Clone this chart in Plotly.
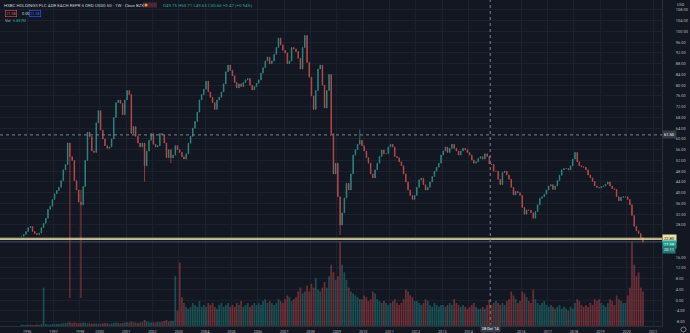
import pandas as pd
import plotly.graph_objects as go

TITLE = "HSBC HOLDINGS PLC ADR EACH REPR 5 ORD USD0.50 · 1W · Cboe BZX"
OHLC_TEXT = "O49.75 H50.71 L49.63 C50.66 +0.47 (+0.94%)"
BID, SPREAD, ASK = "21.58", "0.00", "21.58"
VOL_TEXT = "6.837M"

# Monthly closes, Oct 1995 - Jun 1998 (the feed has no bars until Oct 1999)
close_early = [
    23.8, 24.5, 25.6,
    27.0, 27.4, 25.6, 24.8, 24.4, 25.0, 27.0, 28.6, 30.5, 33.8, 35.0, 37.5,
    39.6, 40.8, 42.0, 44.5, 48.5, 50.5, 58.5, 53.4, 52.0, 44.5, 41.0, 36.5,
    35.5, 42.3, 52.0, 62.5, 60.9, 55.5,
]
# Monthly closes, Oct 1999 - Aug 2020
close_late = [
    55.0, 66.0, 70.5,
    63.3, 60.0, 57.5, 56.5, 57.0, 60.0, 68.0, 73.5, 74.5, 73.3, 69.0, 74.5,
    78.0, 76.5, 62.0, 64.6, 61.0, 58.5, 57.0, 58.5, 50.0, 55.5, 59.5, 62.0,
    58.0, 57.0, 57.5, 62.0, 61.5, 58.5, 53.0, 56.0, 53.0, 54.0, 57.5, 56.0,
    55.0, 53.4, 52.5, 54.5, 58.4, 61.0, 64.0, 66.5, 70.0, 74.5, 76.5, 78.5,
    81.5, 77.5, 75.5, 73.5, 71.0, 74.5, 75.5, 77.5, 80.5, 85.0, 87.5, 85.5,
    83.5, 81.0, 79.0, 80.5, 79.5, 81.0, 82.0, 82.5, 80.0, 78.2, 79.5, 80.7,
    82.0, 84.5, 86.5, 89.0, 90.5, 88.0, 89.0, 91.5, 94.0, 97.5, 95.0, 93.0,
    92.0, 88.0, 89.0, 94.0, 93.5, 92.5, 90.0, 86.0, 94.0, 98.5, 88.5, 83.0,
    76.0, 71.0, 78.0, 86.0, 87.5, 80.0, 71.5, 78.0, 84.0, 62.0, 47.0, 51.0,
    38.5, 28.0, 32.5, 38.0, 43.5, 41.0, 47.0, 54.0, 56.0, 58.0, 59.5, 57.5,
    55.5, 53.0, 51.0, 47.0, 45.5, 48.5, 51.0, 53.5, 55.9, 54.5, 54.5, 57.0,
    58.0, 57.0, 53.5, 53.0, 51.5, 50.0, 47.0, 44.0, 41.0, 39.0, 37.5, 39.0,
    42.0, 44.8, 45.4, 43.0, 41.0, 42.0, 44.0, 46.0, 48.0, 49.5, 51.0, 54.0,
    55.5, 57.0, 55.0, 56.5, 58.0, 56.5, 55.5, 54.0, 55.5, 56.5, 56.0, 55.0,
    54.0, 52.2, 51.0, 51.5, 52.8, 53.4, 52.5, 54.5, 53.5, 50.7, 50.5, 48.0,
    48.0, 45.0, 43.0, 47.5, 48.0, 46.6, 45.0, 42.0, 39.2, 40.5, 40.0, 39.0,
    34.5, 32.0, 33.6, 33.5, 32.5, 30.5, 33.0, 35.5, 37.9, 38.5, 39.5, 41.0,
    42.5, 43.0, 41.2, 42.5, 44.5, 46.5, 48.5, 49.0, 49.0, 48.5, 50.0, 52.5,
    55.0, 51.5, 50.0, 49.7, 49.5, 48.5, 46.6, 45.5, 44.2, 42.5, 42.0, 41.8,
    42.3, 42.5, 43.2, 44.0, 42.5, 41.5, 41.2, 38.5, 37.0, 38.3, 38.5, 38.5,
    37.5, 35.5, 31.5, 27.5, 25.8, 24.8, 23.2, 21.58,
]

# Average weekly volume per month, millions of shares
vol_early = [
    0.4, 0.3, 0.3,
    0.3, 0.4, 0.3, 0.3, 0.4, 0.3, 0.5, 10.0, 0.5, 0.4, 0.4, 0.5,
    0.5, 0.6, 0.5, 0.6, 0.7, 0.8, 0.9, 1.0, 0.8, 0.9, 0.8, 0.7,
    0.8, 0.9, 0.8, 0.7, 0.7, 0.6,
]
vol_late = [
    0.6, 0.7, 0.6,
    0.6, 0.7, 0.8, 0.7, 0.6, 0.7, 0.8, 0.9, 0.8, 0.7, 0.8, 0.9,
    1.0, 0.9, 1.2, 1.0, 0.9, 0.8, 0.9, 1.0, 1.6, 1.2, 1.0, 0.9,
    1.0, 0.9, 1.1, 1.0, 1.2, 1.3, 1.6, 1.2, 1.4, 1.4, 13.0, 4.0,
    16.5, 7.5, 6.0, 5.0, 4.5, 5.0, 6.0, 5.5, 5.0, 6.5, 5.0, 5.5,
    5.0, 6.0, 5.5, 6.0, 5.0, 4.5, 5.5, 6.0, 5.0, 5.5, 6.0, 5.0,
    5.5, 5.0, 6.0, 5.5, 6.5, 5.0, 5.5, 6.0, 5.0, 5.5, 6.0, 5.5,
    6.0, 5.5, 6.5, 7.0, 6.0, 6.5, 6.0, 5.5, 6.0, 7.0, 6.5, 6.0,
    7.0, 8.0, 7.5, 6.5, 7.0, 7.5, 9.0, 10.0, 8.5, 9.0, 10.5, 9.0,
    11.0, 10.0, 12.5, 9.5, 9.0, 10.0, 11.5, 10.0, 13.0, 16.0, 14.0, 12.0,
    13.0, 22.0, 16.0, 14.0, 12.0, 10.0, 9.0, 8.5, 8.0, 7.5, 7.0, 7.0,
    8.0, 7.5, 6.5, 7.0, 9.0, 8.5, 7.0, 6.5, 6.0, 6.5, 6.0, 5.5,
    6.0, 6.5, 7.0, 6.0, 5.5, 6.0, 7.0, 9.5, 9.0, 8.0, 7.5, 6.5,
    6.5, 6.0, 5.5, 6.0, 7.0, 6.5, 5.5, 5.0, 6.0, 5.5, 5.0, 5.5,
    5.5, 5.0, 5.5, 6.0, 5.5, 7.0, 6.0, 5.5, 5.0, 5.5, 5.0, 4.5,
    5.0, 5.5, 6.0, 5.0, 4.5, 4.5, 5.0, 4.5, 5.5, 6.8, 5.5, 6.0,
    6.5, 6.0, 5.5, 6.0, 5.5, 6.5, 7.0, 9.0, 8.0, 7.0, 6.0, 6.5,
    9.0, 8.5, 7.5, 6.5, 6.0, 9.5, 7.0, 6.0, 5.5, 6.0, 6.5, 5.5,
    5.0, 5.5, 5.0, 4.5, 5.0, 5.5, 4.5, 5.0, 4.5, 4.0, 5.0, 4.5,
    6.0, 7.0, 6.5, 5.5, 5.0, 5.5, 5.0, 6.0, 5.5, 7.0, 6.5, 7.0,
    6.0, 5.5, 5.0, 6.0, 7.0, 6.5, 5.5, 8.0, 7.0, 6.5, 6.0, 6.0,
    8.0, 10.0, 22.0, 16.0, 13.0, 14.0, 10.0, 9.0,
]

# Bars whose range reaches past open/close: month -> (high, low)
wick_extremes = {
    "1997-08": (58.5, 0.8),
    "1998-01": (41.0, 0.8),
    "2001-09": (58.0, 44.1),
    "2002-09": (56.0, 51.0),
    "2009-02": (38.5, 24.3),
    "2009-11": (63.5, 58.0),
}

year_ticks = ["1996", "1997", "1998", "2000", "2001", "2002", "2003", "2004",
              "2005", "2006", "2007", "2008", "2009", "2010", "2011", "2012",
              "2013", "2014", "2016", "2017", "2018", "2019", "2020", "2021"]
year_labels = ["1996", "1997", "1998", "2000", "2001", "2002", "2003", "2004",
               "2005", "2006", "2007", "2008", "2009", "2010", "2011", "2012",
               "2013", "2014", "2016", "2017", "2018", "2019", "2020", "2021"]
price_ticks = [108, 104, 100, 96, 92, 88, 84, 80, 76, 72, 68, 64, 60, 56, 52,
               48, 44, 40, 36, 32, 28, 16, 12, 8, 4, 0, -4, -8]

line_levels = [23.05, 22.6]      # drawn horizontal levels
last_level = 21.7                # last-price line
cross_price = 61.5
cross_date = "2014-10-28"

# ---- build bars ----
months = pd.period_range("1995-10", "1998-06", freq="M").append(
    pd.period_range("1999-10", "2020-08", freq="M"))
closes = close_early + close_late
volumes = vol_early + vol_late
dates = [m.to_timestamp() + pd.Timedelta(days=14) for m in months]
opens = [closes[0]] + closes[:-1]
highs = [max(o, c) for o, c in zip(opens, closes)]
lows = [min(o, c) for o, c in zip(opens, closes)]
for i, m in enumerate(months):
    key = str(m)
    if key in wick_extremes:
        h, l = wick_extremes[key]
        highs[i] = max(highs[i], h)
        lows[i] = min(lows[i], l)

UP, DOWN = "#2f9c90", "#d9534f"
vol_colors = ["rgba(38,166,154,0.40)" if c >= o else "rgba(239,83,80,0.40)"
              for o, c in zip(opens, closes)]

BG = "#131722"
GRID = "#1c2130"
TXT = "#b2b5be"
FONT = "Roboto"

fig = go.Figure()
fig.add_trace(go.Bar(x=dates, y=volumes, marker=dict(color=vol_colors, line=dict(width=0)),
                     yaxis="y", showlegend=False, hoverinfo="skip"))
fig.add_trace(go.Candlestick(
    x=dates, open=opens, high=highs, low=lows, close=closes, yaxis="y2",
    increasing=dict(line=dict(color=UP, width=0.7), fillcolor=UP),
    decreasing=dict(line=dict(color=DOWN, width=0.7), fillcolor=DOWN),
    whiskerwidth=0, opacity=0.9, showlegend=False))

W, H = 690, 333
ML, MR, MT, MB = 0, 28, 0, 7
PW, PH = W - ML - MR, H - MT - MB


def px(x):
    return x / PW


def py(y):
    return 1 - y / PH


shapes = []
for lvl, col in zip(line_levels, ["#e8e2b8", "#cfc89a"]):
    shapes.append(dict(type="line", xref="paper", x0=0, x1=1, yref="y2", y0=lvl, y1=lvl,
                       line=dict(color=col, width=1)))
shapes.append(dict(type="line", xref="paper", x0=0, x1=1, yref="y2", y0=last_level, y1=last_level,
                   line=dict(color="#4b5063", width=1)))
shapes.append(dict(type="line", xref="paper", x0=0, x1=1, yref="y2", y0=cross_price, y1=cross_price,
                   line=dict(color="#758696", width=1, dash="dot")))
shapes.append(dict(type="line", xref="x", x0=cross_date, x1=cross_date, yref="paper", y0=0, y1=1,
                   line=dict(color="#758696", width=1, dash="dot")))
# header status pill
shapes.append(dict(type="rect", xref="paper", yref="paper", x0=px(143), x1=px(157),
                   y0=py(7.5), y1=py(2.5), fillcolor="#4d2636", line=dict(width=0)))
shapes.append(dict(type="circle", xref="paper", yref="paper", x0=px(144.5), x1=px(147.5),
                   y0=py(6.5), y1=py(3.5), fillcolor="#f0a030", line=dict(width=0)))
# settings glyph bottom right
shapes.append(dict(type="circle", xref="paper", yref="paper", x0=px(681), x1=px(686),
                   y0=py(332), y1=py(327), line=dict(color="#9598a1", width=0.8)))

ann = []


def text(x, y, s, color=TXT, size=4, anchor="left", **kw):
    ann.append(dict(xref="paper", yref="paper", x=px(x), y=py(y), text=s, showarrow=False,
                    xanchor=anchor, yanchor="middle", font=dict(family=FONT, size=size, color=color), **kw))


text(2, 5, TITLE, color="#c8cad0", size=4.4)
text(161, 5, OHLC_TEXT, color="#26a69a", size=4.4)
text(5, 13.3, BID, color=DOWN, size=3.8, bordercolor=DOWN, borderwidth=0.6, borderpad=0.6)
text(20, 13.3, SPREAD, color="#d1d4dc", size=3.8)
text(29, 13.3, ASK, color="#2962ff", size=3.8, bordercolor="#2962ff", borderwidth=0.6, borderpad=0.6)
text(3, 21, "Vol", color=TXT, size=3.8)
text(11, 21, VOL_TEXT, color="#26a69a", size=3.8)
text(681, 4, "USD", color=TXT, size=3.8, anchor="center")


def price_tag(y_price, s, bg, fg):
    ann.append(dict(xref="paper", x=1.0, yref="y2", y=y_price, text=s, showarrow=False,
                    xanchor="left", yanchor="middle", bgcolor=bg, borderpad=1,
                    font=dict(family=FONT, size=4, color=fg)))


price_tag(22.8, "22.80", "#e8e0a6", "#131722")
price_tag(20.9, "21.58", "#26a69a", "#ffffff")
price_tag(18.9, "20.11", "#1e7a70", "#ffffff")
price_tag(cross_price, "61.50", "#363a45", "#ffffff")

ann.append(dict(xref="x", x=cross_date, yref="paper", y=py(328.5), text="28 Oct '14",
                showarrow=False, xanchor="center", yanchor="middle", bgcolor="#363a45",
                borderpad=0.8, font=dict(family=FONT, size=3.8, color="#ffffff")))

fig.update_layout(
    width=W, height=H, margin=dict(l=ML, r=MR, t=MT, b=MB),
    paper_bgcolor=BG, plot_bgcolor=BG, bargap=0.15, boxgap=0.55,
    font=dict(family=FONT, color=TXT, size=4),
    xaxis=dict(type="date", range=["1994-12-20", "2021-05-05"],
               rangebreaks=[dict(bounds=["1998-07-01", "1999-10-01"])],
               rangeslider=dict(visible=False),
               tickvals=year_ticks, ticktext=year_labels, tickfont=dict(size=3.8, color=TXT),
               showgrid=True, gridcolor=GRID, gridwidth=1, zeroline=False,
               showline=True, linecolor="#2a2e39", ticks="", ticklabelstandoff=1),
    yaxis=dict(range=[0, 85], visible=False, fixedrange=True),
    yaxis2=dict(overlaying="y", side="right", range=[-9.6, 111.7],
                tickvals=price_ticks, ticktext=[f"{v:.2f}" for v in price_ticks],
                tickfont=dict(size=4, color=TXT), showgrid=True, gridcolor=GRID, gridwidth=1,
                zeroline=False, showline=True, linecolor="#2a2e39", ticks="",
                ticklabelstandoff=12),
    shapes=shapes, annotations=ann,
)

fig.write_html("out.html")
